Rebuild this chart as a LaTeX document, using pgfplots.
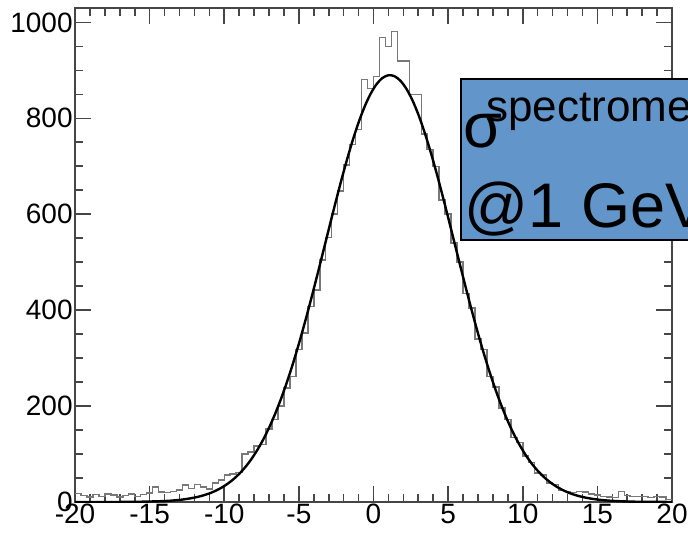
\documentclass[border=0pt]{standalone}
\usepackage{fontspec}
\setmainfont{Liberation Sans}
\usepackage{pgfplots}
\pgfplotsset{compat=1.18}
\definecolor{boxblue}{RGB}{98,150,202}
\definecolor{framegray}{RGB}{70,70,70}
\definecolor{histgray}{RGB}{120,120,120}

\begin{document}
\begin{tikzpicture}
% page = 688x542 px at 0.5pt/px, axis box lower-left at origin
\path[use as bounding box, clip] (-37.5pt,-20pt) rectangle (306.5pt,251pt);
\begin{axis}[
    at={(0,0)}, anchor=south west,
    scale only axis, width=298.5pt, height=247pt,
    xmin=-20, xmax=20, ymin=0, ymax=1030,
    xtick distance=5, ytick distance=200,
    minor x tick num=4, minor y tick num=3,
    tick align=inside, tick pos=both, ticklabel pos=left,
    major tick length=8pt, minor tick length=4pt,
    axis line style={framegray, line width=1pt},
    every tick/.style={framegray, line width=0.8pt},
    tick label style={font=\fontsize{14}{14}\selectfont, inner sep=1pt},
    /pgf/number format/assume math mode=true,
    /pgf/number format/1000 sep={},
]
% histogram, bins of 0.4 (left edges)
\addplot[const plot mark left, histgray, line width=0.75pt] table {
x y
-20 18
-19.6 14
-19.2 10
-18.8 16
-18.4 12
-18 17
-17.6 15
-17.2 10
-16.8 14
-16.4 17
-16 12
-15.6 16
-15.2 19
-14.8 31
-14.4 21
-14 20
-13.6 22
-13.2 25
-12.8 35
-12.4 28
-12 36
-11.6 31
-11.2 27
-10.8 40
-10.4 46
-10 56
-9.6 58
-9.2 62
-8.8 100
-8.4 104
-8 117
-7.6 120
-7.2 152
-6.8 172
-6.4 200
-6 238
-5.6 262
-5.2 318
-4.8 352
-4.4 408
-4 442
-3.6 505
-3.2 552
-2.8 600
-2.4 648
-2 703
-1.6 745
-1.2 777
-0.8 881
-0.4 862
0 887
0.4 969
0.8 950
1.2 981
1.6 919
2 919
2.4 850
2.8 850
3.2 767
3.6 735
4 700
4.4 630
4.8 600
5.2 540
5.6 500
6 435
6.4 405
6.8 340
7.2 318
7.6 262
8 240
8.4 196
8.8 172
9.2 135
9.6 124
10 96
10.4 82
10.8 60
11.2 56
11.6 40
12 36
12.4 24
12.8 22
13.2 20
13.6 22
14 21
14.4 17
14.8 15
15.2 12
15.6 10
16 9
16.4 22
16.8 14
17.2 12
17.6 12
18 11
18.4 9
18.8 11
19.2 10
19.6 5
20 5
};
% gaussian fit
\addplot[black, line width=1.2pt, smooth] coordinates {
(-20,0.02) (-18,0.05) (-16,0.36) (-14,2.0) (-13,4.4) (-12.6,6.0)
(-12.2,8.0) (-11.8,10.5) (-11.4,13.8) (-11.0,17.9) (-10.6,23.1) (-10.2,29.6)
(-9.8,37.5) (-9.4,47.1) (-9.0,58.6) (-8.6,72.4) (-8.2,88.7) (-7.8,107.7)
(-7.4,129.6) (-7.0,154.7) (-6.6,183.2) (-6.2,214.9) (-5.8,250.0) (-5.4,288.4)
(-5.0,329.9) (-4.6,374.2) (-4.2,420.8) (-3.8,469.1) (-3.4,518.6) (-3.0,568.4)
(-2.6,617.7) (-2.2,665.7) (-1.8,711.2) (-1.4,753.4) (-1.0,791.3) (-0.6,824.0)
(-0.2,850.8) (0.2,871.0) (0.6,884.1) (1.0,889.8) (1.4,887.9) (1.8,878.4)
(2.2,861.7) (2.6,838.2) (3.0,808.3) (3.4,772.9) (3.8,732.7) (4.2,688.8)
(4.6,642.0) (5.0,593.3) (5.4,543.5) (5.8,493.9) (6.2,444.8) (6.6,397.2)
(7.0,351.7) (7.4,308.8) (7.8,268.9) (8.2,232.0) (8.6,198.6) (9.0,168.5)
(9.4,141.8) (9.8,118.3) (10.2,97.8) (10.6,80.2) (11.0,65.2) (11.4,52.6)
(11.8,42.0) (12.2,33.3) (12.6,26.2) (13.0,20.4) (13.4,15.7) (13.8,12.1)
(14.2,9.2) (14.6,6.9) (15.0,5.2) (15.4,3.8) (16,2.4) (17,1.05) (18,0.44) (20,0.07)
};
\end{axis}
% label box, runs off the right edge
\filldraw[fill=boxblue, draw=black, line width=1pt] (193pt,131pt) rectangle (340pt,211.5pt);
\node[anchor=base west, inner sep=0pt] at (194pt,177.5pt) {\fontsize{31.5}{31.5}\selectfont σ};
\node[anchor=base west, inner sep=0pt] at (205.5pt,190pt) {\fontsize{22}{22}\selectfont spectrometer};
\node[anchor=base west, inner sep=0pt] at (194.7pt,137.5pt) {\fontsize{31.5}{31.5}\selectfont @1 GeV/c};
\end{tikzpicture}
\end{document}
